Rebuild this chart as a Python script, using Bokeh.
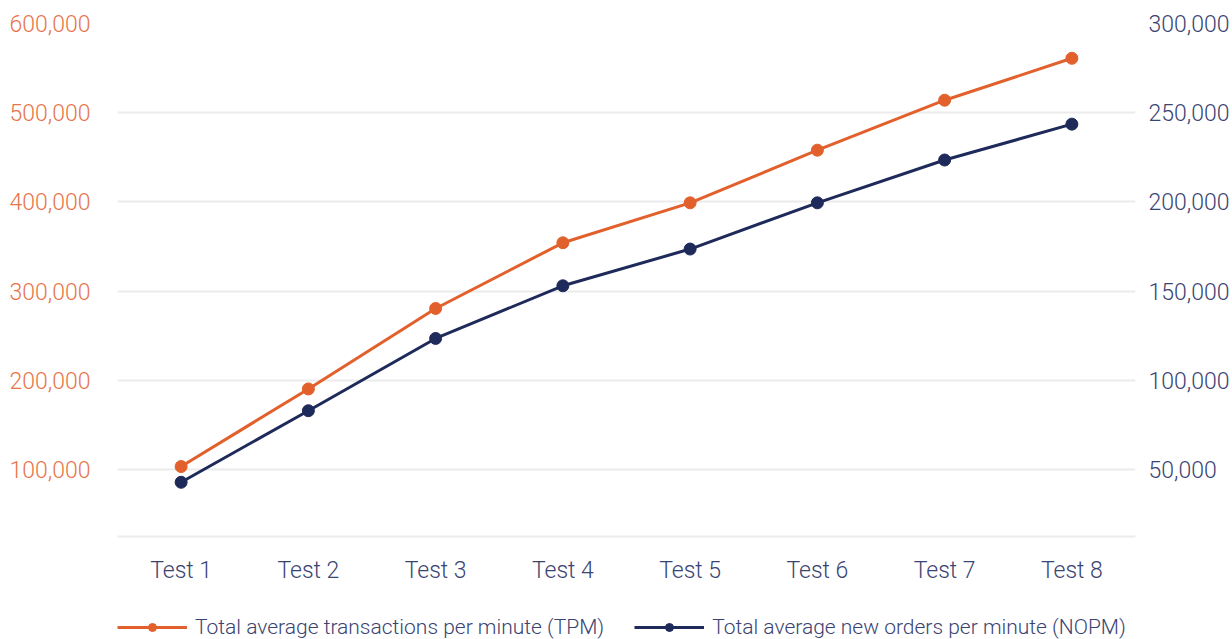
from bokeh.plotting import figure
from bokeh.models import (Range1d, LinearAxis, FixedTicker, NumeralTickFormatter,
                          Legend, LegendItem, FactorRange)
from bokeh.layouts import column
from bokeh.embed import file_html
from bokeh.resources import INLINE

categories = ["Test 1", "Test 2", "Test 3", "Test 4", "Test 5", "Test 6", "Test 7", "Test 8"]
tpm = [103400, 190400, 280600, 354200, 399000, 458000, 514000, 561000]
nopm = [42900, 83000, 123500, 153000, 173600, 199500, 223500, 243600]
left_ticks = [100000, 200000, 300000, 400000, 500000, 600000]
right_ticks = [50000, 100000, 150000, 200000, 250000, 300000]
tpm_label = "Total average transactions per minute (TPM)"
nopm_label = "Total average new orders per minute (NOPM)"

ORANGE = "#E2602B"
ORANGE_TXT = "#E8744A"
NAVY = "#1E2A5A"
NAVY_TXT = "#3A4472"
GRID = "#EBEBEB"
FONT = "Roboto Light"
FS = "23px"

p = figure(width=1232, height=600, x_range=FactorRange(*categories),
           y_range=Range1d(25000, 600000), output_backend="svg",
           toolbar_location=None, min_border_left=117, min_border_top=23,
           min_border_bottom=64, min_border_right=60)
p.extra_y_ranges = {"right": Range1d(12500, 300000)}
p.outline_line_color = None
p.background_fill_color = "white"
p.border_fill_color = "white"

# left axis
ya = p.yaxis[0]
ya.ticker = FixedTicker(ticks=left_ticks)
ya.formatter = NumeralTickFormatter(format="0,0")
ya.axis_line_color = None
ya.major_tick_line_color = None
ya.minor_tick_line_color = None
ya.major_label_text_color = ORANGE_TXT
ya.major_label_text_font = FONT
ya.major_label_text_font_size = FS
ya.major_label_standoff = 21

# right axis
ra = LinearAxis(y_range_name="right", ticker=FixedTicker(ticks=right_ticks),
                formatter=NumeralTickFormatter(format="0,0"))
ra.axis_line_color = None
ra.major_tick_line_color = None
ra.minor_tick_line_color = None
ra.major_label_text_color = NAVY_TXT
ra.major_label_text_font = FONT
ra.major_label_text_font_size = FS
ra.major_label_standoff = 7
p.add_layout(ra, "right")

# x axis
xa = p.xaxis[0]
xa.axis_line_color = GRID
xa.axis_line_width = 2
xa.major_tick_line_color = None
xa.minor_tick_line_color = None
xa.major_label_text_color = NAVY_TXT
xa.major_label_text_font = FONT
xa.major_label_text_font_size = FS
xa.major_label_standoff = 14

p.xgrid.grid_line_color = None
p.ygrid.grid_line_color = GRID
p.ygrid.grid_line_width = 2
p.ygrid.ticker = FixedTicker(ticks=left_ticks)

p.line(categories, tpm, line_color=ORANGE, line_width=3)
p.scatter(categories, tpm, size=12, fill_color=ORANGE, line_color=ORANGE)
p.line(categories, nopm, line_color=NAVY, line_width=3, y_range_name="right")
p.scatter(categories, nopm, size=12, fill_color=NAVY, line_color=NAVY,
          y_range_name="right")

# legend strip: a second figure whose copies of the series lie outside its
# y range (so they are clipped away) and only provide the legend glyphs
lg = figure(width=1232, height=39, x_range=FactorRange(*categories),
            y_range=Range1d(0, 1), output_backend="svg", toolbar_location=None,
            x_axis_type=None, y_axis_type=None, min_border=0)
lg.outline_line_color = None
lg.grid.grid_line_color = None
k1 = lg.line(categories, tpm, line_color=ORANGE, line_width=3)
k2 = lg.scatter(categories, tpm, size=12, fill_color=ORANGE, line_color=ORANGE)
k3 = lg.line(categories, nopm, line_color=NAVY, line_width=3)
k4 = lg.scatter(categories, nopm, size=12, fill_color=NAVY, line_color=NAVY)

legend = Legend(items=[LegendItem(label=tpm_label, renderers=[k1, k2]),
                       LegendItem(label=nopm_label, renderers=[k3, k4])],
                orientation="horizontal", location=(0, 0),
                glyph_width=70, glyph_height=20, label_standoff=8, spacing=30,
                padding=0, margin=0, border_line_color=None,
                background_fill_alpha=0, label_text_font=FONT,
                label_text_font_size="21px", label_text_color=NAVY_TXT)
lg.add_layout(legend, "center")

open("out.html", "w").write(file_html(column(p, lg), INLINE))
